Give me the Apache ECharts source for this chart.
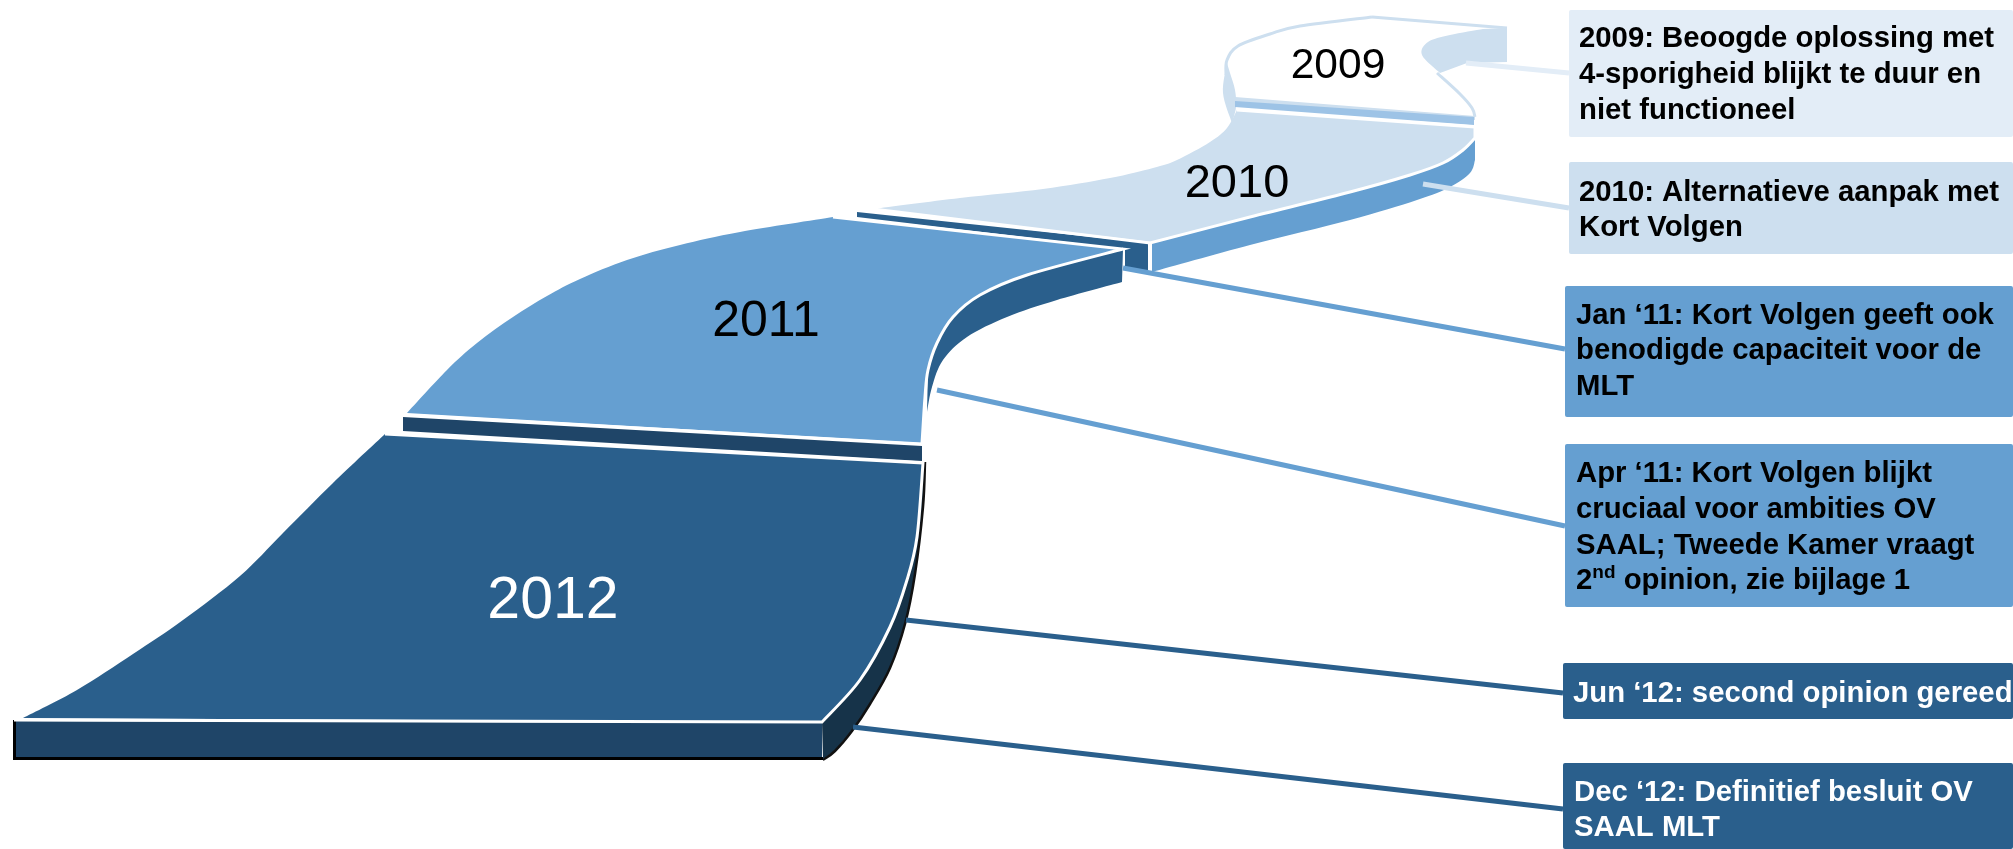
<!DOCTYPE html>
<html>
<head>
<meta charset="utf-8">
<title>Kort Volgen tijdlijn</title>
<script src="https://cdn.jsdelivr.net/npm/echarts@6/dist/echarts.min.js"></script>
<style>
  html, body { margin: 0; padding: 0; background: #fff; }
  #chart { width: 2013px; height: 849px; }
</style>
</head>
<body>
<div id="chart"></div>
<script>
const years = ['2009', '2010', '2011', '2012'];
const yearX = [1338, 1237, 766, 553];
const yearY = [66, 184, 322, 602];

const notes = [
  '2009: Beoogde oplossing met\n4-sporigheid blijkt te duur en\nniet functioneel',
  '2010: Alternatieve aanpak met\nKort Volgen',
  'Jan ‘11: Kort Volgen geeft ook\nbenodigde capaciteit voor de\nMLT',
  'Apr ‘11: Kort Volgen blijkt\ncruciaal voor ambities OV\nSAAL; Tweede Kamer vraagt\n2{sup|nd} opinion, zie bijlage 1',
  'Jun ‘12: second opinion gereed',
  'Dec ‘12: Definitief besluit OV\nSAAL MLT'
];
const noteLeft = [1569, 1569, 1565, 1565, 1563, 1563];
const noteTop = [10, 162, 286, 444, 663, 763];
const noteBottom = [137, 254, 417, 607, 719, 849];

// connector lines: [x1, y1, x2, y2]
const connectors = [
  [1466, 63, 1569, 73],
  [1423, 184, 1569, 208],
  [1123, 268, 1565, 349],
  [937, 390, 1565, 526],
  [906, 620, 1563, 693],
  [853, 727, 1563, 809]
];

// ribbon outlines, each outline is a list of runs, a run is a smooth curve
const end2009 = [
  [[1483, 29], [1450, 35], [1428, 42], [1422, 55], [1440, 73]],
  [[1467, 63]],
  [[1507, 62]],
  [[1507, 28]]
];
const fold2009 = [
  [[1227, 63], [1223, 93], [1232, 123]],
  [[1232, 123], [1236, 107], [1235, 90], [1230, 73], [1227, 63]]
];
const strip2009 = [[[1235, 97]], [[1475, 116]], [[1475, 120]], [[1235, 102]]];
const band2009 = [[[1235, 101]], [[1474, 117]], [[1474, 125]], [[1235, 107]]];
const edge2009 = [
  [[1372, 17], [1300, 26], [1270, 34], [1238, 46], [1227, 60], [1226, 75]]
];
const edge2009Top = [[[1372, 17]], [[1507, 28]]];
const edge2009Right = [[[1437, 73], [1460, 94], [1472, 108], [1475, 117]]];

const top2010 = [
  [[873, 209], [960, 198], [1043, 189], [1110, 178], [1153, 168], [1177, 160], [1210, 142], [1227, 128], [1237, 110]],
  [[1475, 127]],
  [[1475, 138], [1463, 150], [1443, 163], [1410, 175], [1350, 192], [1250, 217], [1152, 242]]
];
const side2010 = [
  [[1475, 138]],
  [[1475, 160], [1470, 173], [1450, 187], [1417, 200], [1350, 220], [1250, 245], [1152, 272]],
  [[1152, 242], [1250, 217], [1350, 192], [1410, 175], [1443, 163], [1463, 150], [1475, 138]]
];
const front2010 = [[[857, 212]], [[1148, 243]], [[1148, 272]], [[1125, 267]], [[1125, 249]], [[857, 217]]];
const edge2010 = [
  [[1237, 110]],
  [[1475, 127]],
  [[1475, 138], [1463, 150], [1443, 163], [1410, 175], [1350, 192], [1250, 217], [1150, 243]],
  [[873, 209]]
];
const edge2010Post = [[[1150, 243]], [[1150, 272]]];

const top2011 = [
  [[407, 413], [447, 370], [477, 343], [513, 317], [547, 296], [580, 279], [627, 260], [680, 245], [740, 232], [833, 217]],
  [[1123, 249], [1027, 275], [980, 295], [953, 317], [937, 343], [928, 370], [925, 397], [922, 443]]
];
const side2011 = [
  [[1123, 249]],
  [[1122, 282], [1057, 300], [1007, 317], [967, 337], [943, 360], [932, 387], [927, 412]],
  [[928, 370], [937, 343], [953, 317], [980, 295], [1027, 275], [1123, 249]]
];
const front2011 = [[[403, 417]], [[922, 446]], [[922, 461]], [[403, 431]]];
const edge2011 = [
  [[833, 217]],
  [[1123, 249], [1027, 275], [980, 295], [953, 317], [937, 343], [928, 370], [925, 397], [922, 444]],
  [[403, 415]]
];

const top2012 = [
  [[23, 718], [77, 690], [133, 654], [183, 620], [240, 576], [283, 533], [333, 483], [385, 434]],
  [[923, 463], [917, 537], [907, 580], [890, 627], [860, 680], [822, 722]]
];
const side2012 = [
  [[822, 722], [860, 680], [890, 627], [907, 580], [917, 537], [923, 463]],
  [[925, 462], [923, 507], [915, 573], [905, 623], [890, 667], [870, 703], [852, 730], [835, 750], [823, 759]]
];
const front2012 = [[[16, 721]], [[822, 723]], [[822, 759]], [[16, 759]]];
const edge2012 = [
  [[385, 434]],
  [[923, 463], [917, 537], [907, 580], [890, 627], [860, 680], [822, 722]],
  [[14, 720]]
];
const rim2012 = [[[14.5, 720]], [[14.5, 758.5]], [[823, 758.5]]];
const rimCurve2012 = [
  [[823, 760], [835, 751], [852, 731], [870, 704], [890, 668], [905, 624], [915, 574], [923, 507], [925, 462]]
];

const PALE = '#e3edf7';
const LIGHT = '#cddfef';
const MID = '#659fd1';
const BAND = '#9dc3e6';
const DARK = '#2a5f8c';
const DEEP = '#1f4568';
const DEEPEST = '#163349';

// back to front
const layers = [
  { outline: end2009, fill: LIGHT },
  { outline: fold2009, fill: LIGHT },
  { outline: edge2009, stroke: LIGHT, width: 3, open: true },
  { outline: edge2009Top, stroke: LIGHT, width: 3, open: true },
  { outline: edge2009Right, stroke: LIGHT, width: 3, open: true },
  { outline: strip2009, fill: LIGHT },
  { outline: band2009, fill: BAND },
  { outline: front2010, fill: DARK },
  { outline: top2010, fill: LIGHT },
  { outline: side2010, fill: MID },
  { outline: edge2010, stroke: '#fff', width: 3, open: true },
  { outline: edge2010Post, stroke: '#fff', width: 2, open: true },
  { outline: side2011, fill: DARK },
  { outline: top2011, fill: MID },
  { outline: edge2011, stroke: '#fff', width: 3, open: true },
  { outline: front2011, fill: DEEP },
  { outline: side2012, fill: DEEPEST },
  { outline: rimCurve2012, stroke: '#111', width: 2.5, open: true },
  { outline: front2012, fill: DEEP },
  { outline: top2012, fill: DARK },
  { outline: rim2012, stroke: '#000', width: 3, open: true },
  { outline: edge2012, stroke: '#fff', width: 3, open: true }
];

// catmull-rom through the read points of a run
const runToPath = (run, api, first) => {
  const pts = run.map(p => api.coord(p));
  let d = `${first ? 'M' : 'L'}${pts[0][0]} ${pts[0][1]}`;
  for (let i = 0; i < pts.length - 1; i += 1) {
    const p0 = pts[i - 1] || pts[i];
    const p1 = pts[i];
    const p2 = pts[i + 1];
    const p3 = pts[i + 2] || p2;
    const c1x = p1[0] + (p2[0] - p0[0]) / 6;
    const c1y = p1[1] + (p2[1] - p0[1]) / 6;
    const c2x = p2[0] - (p3[0] - p1[0]) / 6;
    const c2y = p2[1] - (p3[1] - p1[1]) / 6;
    d += `C${c1x} ${c1y} ${c2x} ${c2y} ${p2[0]} ${p2[1]}`;
  }
  return d;
};

const renderLayer = (params, api) => {
  const layer = layers[params.dataIndex];
  const d = layer.outline.map((run, i) => runToPath(run, api, i === 0)).join('');
  return {
    type: 'path',
    shape: { pathData: layer.open ? d : `${d}Z` },
    style: {
      fill: layer.fill || 'none',
      stroke: layer.stroke || null,
      lineWidth: layer.width || 0,
      lineJoin: 'miter'
    }
  };
};

const connectorColors = [PALE, LIGHT, MID, MID, DARK, DARK];

const renderConnector = (params, api) => {
  const [x1, y1, x2, y2] = connectors[params.dataIndex];
  const a = api.coord([x1, y1]);
  const b = api.coord([x2, y2]);
  return {
    type: 'line',
    shape: { x1: a[0], y1: a[1], x2: b[0], y2: b[1] },
    style: {
      stroke: connectorColors[params.dataIndex],
      lineWidth: 5
    }
  };
};

const noteFills = [PALE, LIGHT, MID, MID, DARK, DARK];
const noteInk = ['#000', '#000', '#000', '#000', '#fff', '#fff'];
const notePadX = [10, 10, 11, 11, 10, 11];
const noteTextTop = [21.5, 175, 298, 456.5, 676, 775];

const renderNote = (params, api) => {
  const i = params.dataIndex;
  const tl = api.coord([noteLeft[i], noteTop[i]]);
  const br = api.coord([2013, noteBottom[i]]);
  return {
    type: 'group',
    children: [
      {
        type: 'rect',
        shape: { x: tl[0], y: tl[1], width: br[0] - tl[0], height: br[1] - tl[1], r: 2 },
        style: { fill: noteFills[i] }
      },
      {
        type: 'text',
        x: tl[0] + notePadX[i],
        y: noteTextTop[i],
        style: {
          text: notes[i],
          fill: noteInk[i],
          font: 'bold 29.3px "Liberation Sans", Arial, sans-serif',
          lineHeight: 35.6,
          verticalAlign: 'top',
          rich: {
            sup: {
              fontSize: 19,
              fontWeight: 'bold',
              fontFamily: 'Liberation Sans',
              fill: noteInk[i],
              lineHeight: 35.6,
              verticalAlign: 'top'
            }
          }
        }
      }
    ]
  };
};

const yearFonts = [42.5, 47, 50, 59];
const yearInk = ['#000', '#000', '#000', '#fff'];

const renderYear = (params, api) => {
  const i = params.dataIndex;
  const p = api.coord([yearX[i], yearY[i]]);
  return {
    type: 'text',
    x: p[0],
    y: p[1],
    style: {
      text: years[i],
      fill: yearInk[i],
      font: `${yearFonts[i]}px "Liberation Sans", Arial, sans-serif`,
      align: 'center',
      verticalAlign: 'middle'
    }
  };
};

const customSeries = (data, renderItem) => ({
  type: 'custom',
  coordinateSystem: 'cartesian2d',
  data,
  renderItem,
  silent: true,
  clip: false,
  animation: false
});

const chart = echarts.init(document.getElementById('chart'), null, { renderer: 'canvas' });

chart.setOption({
  backgroundColor: '#fff',
  animation: false,
  grid: { left: 0, right: 0, top: 0, bottom: 0 },
  xAxis: { type: 'value', min: 0, max: 2013, show: false },
  yAxis: { type: 'value', min: 0, max: 849, inverse: true, show: false },
  series: [
    customSeries(layers.map((l, i) => [i, i]), renderLayer),
    customSeries(connectors.map(c => [c[0], c[1]]), renderConnector),
    customSeries(notes.map((n, i) => [noteLeft[i], noteTop[i]]), renderNote),
    customSeries(years.map((y, i) => [yearX[i], yearY[i]]), renderYear)
  ]
});
</script>
</body>
</html>
